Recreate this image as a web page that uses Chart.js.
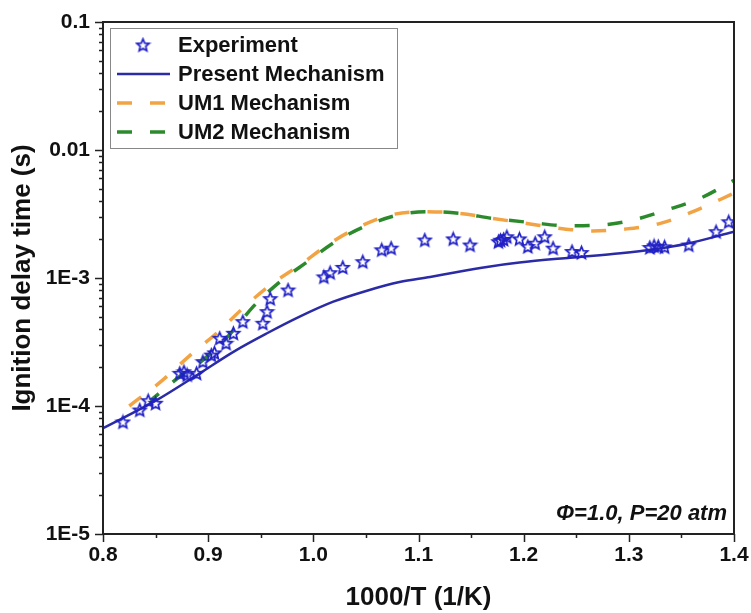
<!DOCTYPE html>
<html lang="en">
<head>
    <meta charset="UTF-8">
    <title>Ignition delay time</title>
    <script src="https://cdn.jsdelivr.net/npm/chart.js"></script>
    <style>
        html, body { margin: 0; padding: 0; background: #fff; }
        #wrap { width: 751px; height: 613px; }
    </style>
</head>
<body>
<div id="wrap"><canvas id="myChart" width="751" height="613"></canvas></div>
<script>
// Experiment (stars)
const expX = [0.819, 0.835, 0.843, 0.850, 0.873, 0.877, 0.880, 0.889, 0.895, 0.903, 0.906, 0.911, 0.917, 0.924, 0.933,
    0.952, 0.956, 0.959, 0.976, 1.010, 1.016, 1.028, 1.047, 1.065, 1.074, 1.106, 1.133, 1.149, 1.176, 1.178,
    1.181, 1.184, 1.196, 1.204, 1.211, 1.220, 1.228, 1.246, 1.255, 1.320, 1.324, 1.328, 1.334, 1.357, 1.383, 1.395];
const expY = [7.5e-5, 9.3e-5, 1.1e-4, 1.05e-4, 1.8e-4, 1.85e-4, 1.75e-4, 1.8e-4, 2.22e-4, 2.5e-4, 2.6e-4, 3.38e-4, 3.09e-4, 3.7e-4, 4.56e-4,
    4.43e-4, 5.46e-4, 6.9e-4, 8.05e-4, 1.02e-3, 1.10e-3, 1.21e-3, 1.34e-3, 1.66e-3, 1.71e-3, 1.98e-3, 2.02e-3, 1.81e-3, 1.92e-3, 1.97e-3,
    2.0e-3, 2.1e-3, 2.02e-3, 1.76e-3, 1.87e-3, 2.1e-3, 1.71e-3, 1.61e-3, 1.58e-3, 1.73e-3, 1.78e-3, 1.76e-3, 1.75e-3, 1.81e-3, 2.3e-3, 2.75e-3];

// Present Mechanism (solid)
const presentX = [0.80, 0.851, 0.892, 0.924, 0.956, 0.987, 1.019, 1.051, 1.082, 1.111, 1.133, 1.165, 1.196, 1.244, 1.292, 1.323, 1.355, 1.40];
const presentY = [6.7e-5, 1.11e-4, 1.80e-4, 2.65e-4, 3.70e-4, 4.99e-4, 6.53e-4, 7.96e-4, 9.3e-4, 1.02e-3, 1.10e-3, 1.22e-3, 1.32e-3, 1.44e-3, 1.56e-3, 1.67e-3, 1.85e-3, 2.3e-3];

// UM1 Mechanism (orange dashed)
const um1X = [0.825, 0.857, 0.883, 0.908, 0.933, 0.959, 0.987, 1.016, 1.044, 1.073, 1.105, 1.139, 1.171, 1.203, 1.235, 1.266, 1.298, 1.330, 1.361, 1.40];
const um1Y = [1.0e-4, 1.6e-4, 2.5e-4, 3.7e-4, 5.8e-4, 8.8e-4, 1.26e-3, 1.87e-3, 2.52e-3, 3.1e-3, 3.3e-3, 3.2e-3, 2.92e-3, 2.67e-3, 2.44e-3, 2.33e-3, 2.42e-3, 2.67e-3, 3.3e-3, 4.6e-3];

// UM2 Mechanism (green dashed)
const um2X = [0.845, 0.873, 0.899, 0.924, 0.943, 0.968, 0.995, 1.02, 1.05, 1.08, 1.108, 1.139, 1.171, 1.209, 1.241, 1.273, 1.304, 1.336, 1.368, 1.40];
const um2Y = [1.1e-4, 1.7e-4, 2.43e-4, 3.9e-4, 6.0e-4, 9.3e-4, 1.35e-3, 1.9e-3, 2.55e-3, 3.1e-3, 3.3e-3, 3.2e-3, 2.92e-3, 2.7e-3, 2.56e-3, 2.59e-3, 2.84e-3, 3.4e-3, 4.2e-3, 5.8e-3];

// axis ticks
const xTickVals = [0.8, 0.9, 1.0, 1.1, 1.2, 1.3, 1.4];
const xTickLabels = ['0.8', '0.9', '1.0', '1.1', '1.2', '1.3', '1.4'];
const yTickVals = [1e-5, 1e-4, 1e-3, 1e-2, 1e-1];
const yTickLabels = ['1E-5', '1E-4', '1E-3', '0.01', '0.1'];

const FONT = "'Liberation Sans', Arial, sans-serif";
const starColor = '#2020c6';
const presentColor = '#2b2ba6';
const um1Color = '#f2a444';
const um2Color = '#2c8a2c';

const pts = (xs, ys) => xs.map((x, i) => ({ x: x, y: ys[i] }));

// star outline used as point style
function makeStar(r) {
    const c = document.createElement('canvas');
    const s = Math.ceil(r * 2 + 4);
    c.width = s; c.height = s;
    const g = c.getContext('2d');
    g.translate(s / 2, s / 2 + 0.5);
    g.beginPath();
    for (let i = 0; i < 10; i++) {
        const rad = i % 2 === 0 ? r : r * 0.45;
        const a = -Math.PI / 2 + i * Math.PI / 5;
        g.lineTo(rad * Math.cos(a), rad * Math.sin(a));
    }
    g.closePath();
    g.strokeStyle = starColor;
    g.lineWidth = 1.7;
    g.stroke();
    return c;
}
const starImg = makeStar(6.5);

// frame, ticks, annotation and legend
const decorations = {
    id: 'decorations',
    afterDraw(chart) {
        const ctx = chart.ctx;
        const a = chart.chartArea;
        const xs = chart.scales.x, ys = chart.scales.y;
        ctx.save();
        ctx.strokeStyle = '#222';
        ctx.lineWidth = 2;
        ctx.strokeRect(a.left, a.top, a.right - a.left, a.bottom - a.top);

        ctx.lineWidth = 1.5;
        ctx.beginPath();
        // y ticks: majors and minors, outward
        for (let e = -5; e <= -1; e++) {
            for (let m = 1; m <= 9; m++) {
                const v = m * Math.pow(10, e);
                if (v > 0.1 + 1e-12) break;
                const py = Math.round(ys.getPixelForValue(v)) + 0.5;
                const len = m === 1 ? 8 : 4;
                ctx.moveTo(a.left, py);
                ctx.lineTo(a.left - len, py);
            }
        }
        // x ticks
        for (let i = 0; i <= 12; i++) {
            const v = 0.8 + i * 0.05;
            const px = Math.round(xs.getPixelForValue(v)) + 0.5;
            const len = i % 2 === 0 ? 8 : 4;
            ctx.moveTo(px, a.bottom);
            ctx.lineTo(px, a.bottom + len);
        }
        ctx.stroke();

        // condition text
        ctx.fillStyle = '#111';
        ctx.font = 'italic bold 22px ' + FONT;
        ctx.textAlign = 'right';
        ctx.textBaseline = 'middle';
        ctx.fillText('\u03A6=1.0, P=20 atm', a.right - 7, 514);

        // legend box
        ctx.strokeStyle = '#888';
        ctx.lineWidth = 1;
        ctx.strokeRect(110.5, 28.5, 287, 120);
        ctx.font = 'bold 22px ' + FONT;
        ctx.textAlign = 'left';
        chart.data.datasets.forEach((ds, i) => {
            const cy = 45 + i * 29;
            if (ds.showLine) {
                ctx.save();
                ctx.strokeStyle = ds.borderColor;
                ctx.lineWidth = ds.borderWidth;
                ctx.setLineDash(ds.borderDash || []);
                ctx.beginPath();
                ctx.moveTo(117, cy);
                ctx.lineTo(170, cy);
                ctx.stroke();
                ctx.restore();
            } else {
                ctx.drawImage(starImg, 143 - starImg.width / 2, cy - starImg.height / 2);
            }
            ctx.fillStyle = '#111';
            ctx.fillText(ds.label, 178, cy + 1);
        });
        ctx.restore();
    }
};

const ctx = document.getElementById('myChart').getContext('2d');
const myChart = new Chart(ctx, {
    type: 'scatter',
    data: {
        datasets: [
            {
                label: 'Experiment',
                data: pts(expX, expY),
                pointStyle: starImg,
                showLine: false
            },
            {
                label: 'Present Mechanism',
                data: pts(presentX, presentY),
                showLine: true,
                borderColor: presentColor,
                borderWidth: 2.5,
                pointRadius: 0,
                cubicInterpolationMode: 'monotone'
            },
            {
                label: 'UM1 Mechanism',
                data: pts(um1X, um1Y),
                showLine: true,
                borderColor: um1Color,
                borderWidth: 3.5,
                borderDash: [15, 18],
                pointRadius: 0,
                cubicInterpolationMode: 'monotone'
            },
            {
                label: 'UM2 Mechanism',
                data: pts(um2X, um2Y),
                showLine: true,
                borderColor: um2Color,
                borderWidth: 3.5,
                borderDash: [15, 18],
                borderDashOffset: 4,
                pointRadius: 0,
                cubicInterpolationMode: 'monotone'
            }
        ]
    },
    options: {
        responsive: false,
        animation: false,
        events: [],
        layout: { padding: { top: 22, right: 17, left: 0, bottom: 0 } },
        plugins: {
            legend: { display: false },
            tooltip: { enabled: false }
        },
        scales: {
            x: {
                type: 'linear',
                min: 0.8,
                max: 1.4,
                afterFit: s => { s.height = 79; s.paddingLeft = 0; s.paddingRight = 0; },
                afterBuildTicks: s => { s.ticks = xTickVals.map(v => ({ value: v })); },
                grid: { display: false, drawTicks: false },
                border: { display: false },
                ticks: {
                    padding: 9,
                    color: '#111',
                    maxRotation: 0,
                    autoSkip: false,
                    font: { family: FONT, size: 21, weight: 'bold' },
                    callback: (v, i) => xTickLabels[i]
                },
                title: {
                    display: true,
                    text: '1000/T (1/K)',
                    color: '#111',
                    padding: { top: 0, bottom: 0 },
                    font: { family: FONT, size: 26, weight: 'bold' }
                }
            },
            y: {
                type: 'logarithmic',
                min: 1e-5,
                max: 0.1,
                afterFit: s => { s.width = 103; s.paddingTop = 0; s.paddingBottom = 0; },
                afterBuildTicks: s => { s.ticks = yTickVals.map(v => ({ value: v })); },
                grid: { display: false, drawTicks: false },
                border: { display: false },
                ticks: {
                    padding: 13,
                    color: '#111',
                    autoSkip: false,
                    font: { family: FONT, size: 21, weight: 'bold' },
                    callback: (v, i) => yTickLabels[i]
                },
                title: {
                    display: true,
                    text: 'Ignition delay time (s)',
                    color: '#111',
                    padding: { top: 7, bottom: 0 },
                    font: { family: FONT, size: 26, weight: 'bold' }
                }
            }
        }
    },
    plugins: [decorations]
});
</script>
</body>
</html>
